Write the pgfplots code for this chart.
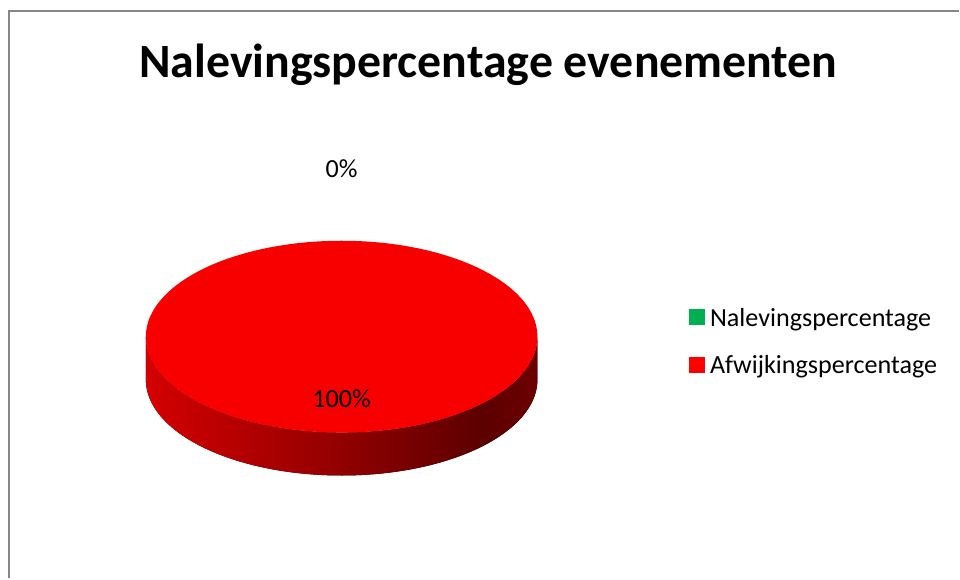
\documentclass[border=0pt]{standalone}
\usepackage{pgfplots}
\pgfplotsset{compat=1.18}
\usepackage{pgfplotstable}
\usepackage{fontspec}
\setmainfont{Carlito}

\definecolor{pieTop}{RGB}{248,0,0}
\definecolor{legRed}{RGB}{255,0,0}
\definecolor{legGreen}{RGB}{0,176,80}
\definecolor{frameGray}{RGB}{134,134,134}
\definecolor{sideA}{RGB}{212,0,0}
\definecolor{sideB}{RGB}{145,0,0}
\definecolor{sideC}{RGB}{92,0,0}
\definecolor{sideD}{RGB}{108,0,0}
\pgfdeclarehorizontalshading{pieside}{100bp}{color(0bp)=(sideA); color(25bp)=(sideA); color(50bp)=(sideB); color(68bp)=(sideC); color(75bp)=(sideD); color(100bp)=(sideD)}

% pie values (percent)
\pgfplotstableread{
label value
Nalevingspercentage 0
Afwijkingspercentage 100
}\piedata
\pgfplotstablegetelem{1}{value}\of\piedata
\let\afw\pgfplotsretval

% label positions (picture px) and value
\pgfplotstableread{
x y value
342 178 0
342 408 100
}\labeldata

\begin{document}
\begin{tikzpicture}
\begin{axis}[
    scale only axis,
    width=720pt, height=434.25pt,
    xmin=0, xmax=960, ymin=0, ymax=579,
    y dir=reverse,
    hide axis,
    clip=false,
    legend style={at={(axis cs:689,308)}, anchor=north west, draw=none, fill=none,
        inner sep=0pt, row sep=20.5pt, column sep=4.5pt,
        nodes={inner sep=0pt},
        font=\fontsize{19.6}{23}\selectfont},
    legend cell align=left,
]
% whole chart area
\path (axis cs:0,0) rectangle (axis cs:960,579);
% frame
\draw[frameGray, line width=1.5pt] (axis cs:9.5,579) -- (axis cs:9.5,11) -- (axis cs:960,11);

% title
\node[anchor=base, font=\fontsize{35.9}{42}\selectfont\bfseries] at (axis cs:489,78) {Nalevingspercentage evenementen};

% side of the pie
\fill[shading=pieside] (axis cs:146,337) arc[start angle=180, end angle=360, x radius=147pt, y radius=72pt]
    -- ++(0,-32.25pt) arc[start angle=0, end angle=-180, x radius=147pt, y radius=72pt] -- cycle;
% top slice
\fill[pieTop] (axis cs:342,337) -- +(90:147pt and 72pt)
    arc[start angle=90, delta angle=-3.6*\afw, x radius=147pt, y radius=72pt] -- cycle;

% data labels
\addplot[draw=none, mark=none, forget plot, point meta=explicit,
    nodes near coords={\pgfmathprintnumber[assume math mode=true]{\pgfplotspointmeta}\%},
    every node near coord/.append style={anchor=base, text=black, font=\fontsize{19.6}{23}\selectfont}]
    table[x=x, y=y, meta=value] {\labeldata};

\addlegendimage{legend image code/.code={\fill[legGreen] (0pt,-5pt) rectangle (11.25pt,6.25pt);}}
\addlegendentry{Nalevingspercentage}
\addlegendimage{legend image code/.code={\fill[legRed] (0pt,-5pt) rectangle (11.25pt,6.25pt);}}
\addlegendentry{Afwijkingspercentage}
\end{axis}
\end{tikzpicture}
\end{document}
